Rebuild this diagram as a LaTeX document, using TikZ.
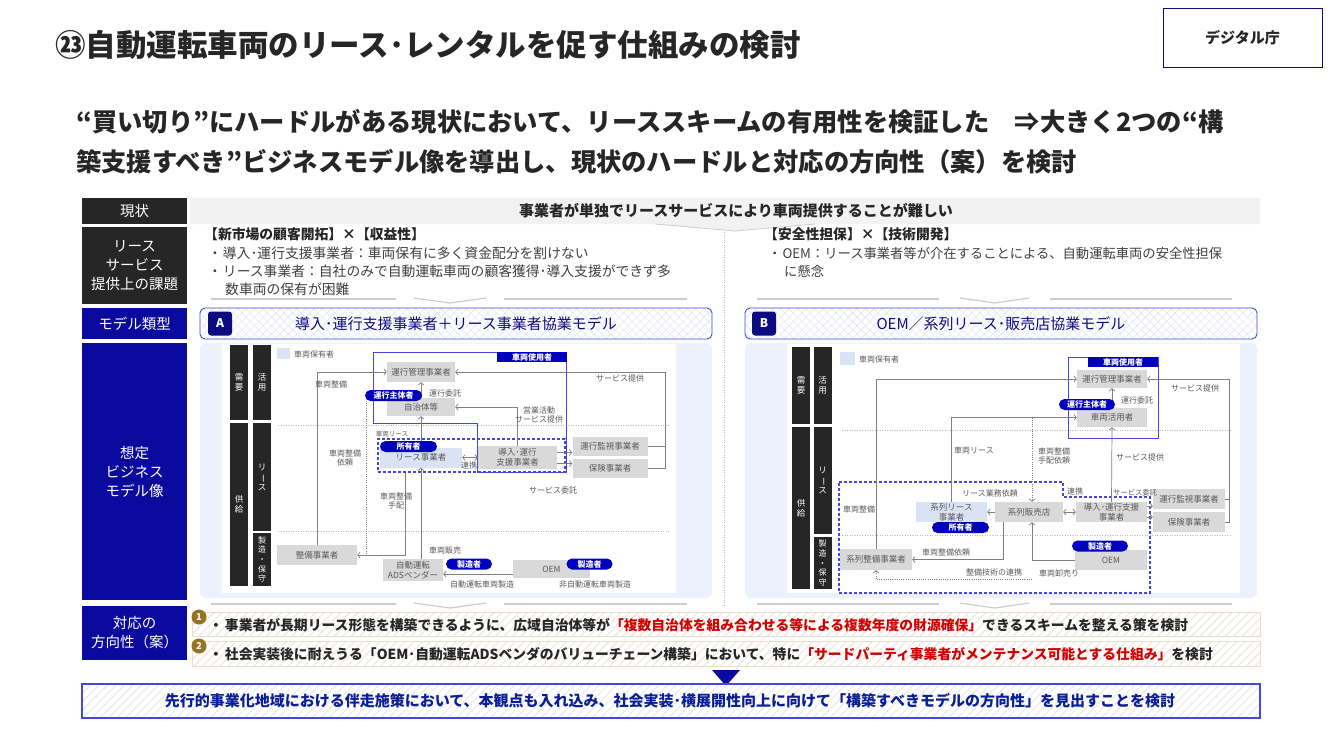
\documentclass[tikz,border=0pt]{standalone}
\usepackage{fontspec}
\setmainfont{Noto Sans CJK JP}
\usepackage{graphicx}
\usetikzlibrary{arrows.meta,patterns.meta}
\definecolor{darkbar}{RGB}{38,38,38}
\definecolor{navy}{RGB}{10,10,158}
\definecolor{navyd}{RGB}{12,12,130}
\definecolor{pillblue}{RGB}{0,0,190}
\definecolor{bline}{RGB}{70,70,225}
\definecolor{lblue}{RGB}{218,227,243}
\definecolor{panelbg}{RGB}{236,241,252}
\definecolor{gboxc}{RGB}{217,217,217}
\definecolor{gtext}{RGB}{89,89,89}
\definecolor{lgray}{RGB}{128,128,128}
\definecolor{redtxt}{RGB}{210,0,0}
\definecolor{gold}{RGB}{150,115,35}
\definecolor{beige}{RGB}{232,222,205}
\definecolor{hatchb}{RGB}{236,230,218}
\definecolor{txt}{RGB}{38,38,38}
\definecolor{txt2}{RGB}{64,64,64}
\definecolor{bluetxt}{RGB}{10,30,150}
\definecolor{xhatch}{RGB}{222,226,242}
\definecolor{sepg}{RGB}{205,205,205}
\definecolor{barbg}{RGB}{242,242,242}
\definecolor{bhatch}{RGB}{232,232,236}
\newcommand{\fsz}[2]{\fontsize{#1}{#2}\selectfont}
\tikzset{
  darklab/.style={fill=darkbar, text=white, font=\fsz{14.5}{19}, align=center, inner sep=0, minimum width=105},
  bluelab/.style={fill=navy, text=white, font=\fsz{14.5}{19}, align=center, inner sep=0, minimum width=105},
  gb/.style={fill=gboxc, text=gtext, font=\fsz{8.5}{10}, inner sep=0, align=center},
  lb/.style={gb, fill=lblue},
  pill/.style={fill=pillblue, text=white, rounded corners=5.5, font=\bfseries\fsz{8}{8}, inner sep=0, minimum height=11},
  tabbox/.style={fill=pillblue, text=white, font=\bfseries\fsz{8}{8}, inner sep=0, minimum height=10},
  vbar/.style={fill=darkbar, text=white, font=\fsz{8.5}{10}, align=center, inner sep=0, minimum width=18},
  sm/.style={text=gtext, font=\fsz{8}{9.5}, align=center, inner sep=0},
  ln/.style={draw=lgray, line width=0.7},
  arr/.style={ln, ->},
  darr/.style={ln, <->},
  dotl/.style={draw=lgray, line width=0.7, dash pattern=on 1pt off 1.2pt},
  guide/.style={draw=gray!55, line width=0.6, dash pattern=on 1pt off 1.5pt},
  sepl/.style={draw=sepg, line width=1.2},
  modelbox/.style={draw=bline, line width=0.9, rounded corners=5, inner sep=0,
     preaction={fill=white},
     preaction={pattern={Lines[angle=45,distance=6pt,line width=0.4pt]}, pattern color=xhatch},
     pattern={Lines[angle=-45,distance=6pt,line width=0.4pt]}, pattern color=xhatch},
  badge/.style={fill=navyd, text=white, rounded corners=3, minimum size=24, inner sep=0, font=\bfseries\fsz{12}{12}},
  rowbox/.style={draw=beige, line width=0.8, inner sep=0,
     preaction={fill=white},
     pattern={Lines[angle=45,distance=6pt,line width=0.9pt]}, pattern color=hatchb},
  numc/.style={circle, fill=gold, text=white, minimum size=15, inner sep=0, font=\bfseries\fsz{9.5}{9.5}},
  rowtxt/.style={anchor=west, text=txt, font=\bfseries\fsz{13.8}{14}, inner sep=0},
  ktxt/.style={anchor=west, text=txt2, font=\fsz{13.8}{14}, inner sep=0},
}
\begin{document}
\begin{tikzpicture}[x=1pt, y=-1pt, >={Straight Barb[length=2.5pt,width=6pt]}]
\useasboundingbox (0,0) rectangle (1334,750);
\fill[white] (0,0) rectangle (1334,750);

% ---------- header ----------
\node[anchor=west, inner sep=0, text=txt, font=\bfseries\fsz{30.5}{31}] (title) at (55,45) {㉓自動運転車両のリース･レンタルを促す仕組みの検討};
\node[draw=navyd, line width=0.9, minimum width=159, minimum height=59, inner sep=0, text=txt, font=\bfseries\fsz{15}{15}] (dcho) at (1242.5,37.5) {デジタル庁};
\node[anchor=west, inner sep=0, text=txt, font=\bfseries\fsz{25.3}{26}] (sub1) at (76,122) {“買い切り”にハードルがある現状において、リーススキームの有用性を検証した　⇒大きく2つの“構};
\node[anchor=west, inner sep=0, text=txt, font=\bfseries\fsz{25.3}{26}] (sub2) at (76,162) {築支援すべき”ビジネスモデル像を導出し、現状のハードルと対応の方向性（案）を検討};

% ---------- left labels ----------
\node[darklab, minimum height=26] (genjo) at (134.5,211) {現状};
\node[darklab, minimum height=77] (kadai) at (134.5,265.5) {リース\\サービス\\提供上の課題};
\node[bluelab, minimum height=31] (ruikei) at (134.5,323.5) {モデル類型};
\node[bluelab, minimum height=257] (sotei) at (134.5,471.5) {想定\\ビジネス\\モデル像};
\node[bluelab, minimum height=54] (taio) at (134.5,633) {対応の\\方向性（案）};

% ---------- current-state bar ----------
\fill[barbg] (190,198) -- (1260,198) -- (1260,224) -- (815,224) -- (735,231) -- (655,224) -- (190,224) -- cycle;
\draw[draw=sepg, line width=0.8] (655,224) -- (735,231) -- (815,224);
\node[inner sep=0, text=txt, font=\bfseries\fsz{15}{15}] (genjot) at (736,211) {事業者が単独でリースサービスにより車両提供することが難しい};
\draw[guide] (724,232) -- (724,606);

% ---------- challenges ----------
\node[anchor=west, inner sep=0, text=txt, font=\bfseries\fsz{13.8}{14}] (kA) at (204,234) {【新市場の顧客開拓】×【収益性】};
\node[ktxt] (kA1) at (208,253) {・\hspace{1pt}導入･運行支援事業者：車両保有に多く資金配分を割けない};
\node[ktxt] (kA2) at (208,271) {・\hspace{1pt}リース事業者：自社のみで自動運転車両の顧客獲得･導入支援ができず多};
\node[ktxt] (kA3) at (225,289) {数車両の保有が困難};
\node[anchor=west, inner sep=0, text=txt, font=\bfseries\fsz{13.8}{14}] (kB) at (764,234) {【安全性担保】×【技術開発】};
\node[ktxt, font=\fsz{13.3}{14}] (kB1) at (768,253) {・\hspace{1pt}OEM：リース事業者等が介在することによる、自動運転車両の安全性担保};
\node[ktxt, font=\fsz{13.3}{14}] (kB2) at (784,271) {に懸念};

% separators
\foreach \yy in {299,604}{
  \draw[sepl] (211,\yy) -- (396,\yy);
  \draw[sepl] (414,\yy-1) -- (450,\yy+4) -- (486,\yy-1);
  \draw[sepl] (504,\yy) -- (687,\yy);
  \draw[sepl] (757,\yy) -- (939,\yy);
  \draw[sepl] (960,\yy-1) -- (995,\yy+4) -- (1029,\yy-1);
  \draw[sepl] (1050,\yy) -- (1232,\yy);
}

% ---------- model type ----------
\node[modelbox, minimum width=512, minimum height=31] (mA) at (456,323.5) {};
\node[badge] (bA) at (220,323.5) {A};
\node[inner sep=0, text=navyd, font=\fsz{15}{15}] (mAt) at (456,323.5) {導入･運行支援事業者＋リース事業者協業モデル};
\node[modelbox, minimum width=512, minimum height=31] (mB) at (1001,323.5) {};
\node[badge] (bB) at (764,323.5) {B};
\node[inner sep=0, text=navyd, font=\fsz{15}{15}] (mBt) at (1001,323.5) {OEM／系列リース･販売店協業モデル};

% =============== PANEL A ===============
\fill[panelbg, rounded corners=6] (200,343) rectangle (712,598);
\fill[white] (222,344) rectangle (676,593);
\node[vbar, minimum height=75] (juyoA) at (239,382.5) {需\\要};
\node[vbar, minimum height=75] (katsuA) at (262,382.5) {活\\用};
\node[vbar, minimum height=163] (kyoA) at (239,504.5) {供\\給};
\node[vbar, minimum height=108] (riA) at (262,477) {リ\\\rotatebox[origin=c]{-90}{ー}\\ス};
\node[vbar, minimum height=53, font=\fsz{8}{9.6}] (seiA) at (262,559.5) {製\\造\\・\\保\\守};
\draw[guide] (278,425) -- (670,425);
\draw[guide] (278,531) -- (670,531);
\fill[lblue] (277,348) rectangle (290,359);
\node[sm, anchor=west] (legA) at (294,354) {車両保有者};

% user region
\draw[bline, line width=1] (373,352) -- (566,352) -- (566,472) -- (477,472) -- (477,423) -- (373,423) -- cycle;
\node[draw=bline, line width=1.2, dash pattern=on 3pt off 2pt, minimum width=187, minimum height=33, inner sep=0] (grpA) at (471.5,455.5) {};

% boxes
\node[gb, minimum width=68, minimum height=20] (kanriA) at (421,372) {運行管理事業者};
\node[gb, minimum width=68, minimum height=18] (jichiA) at (421,407) {自治体等};
\node[lb, minimum width=82, minimum height=20] (leaseA) at (421,457.5) {\raisebox{-2pt}{リース事業者}};
\node[gb, minimum width=79, minimum height=23] (donyuA) at (517.5,457.5) {導入･運行\\支援事業者};
\node[gb, minimum width=75, minimum height=19] (kanshiA) at (610,446.5) {運行監視事業者};
\node[gb, minimum width=75, minimum height=19] (hokenA) at (610,468.5) {保険事業者};
\node[gb, minimum width=80, minimum height=20] (seibiA) at (317,555) {整備事業者};
\node[gb, minimum width=60, minimum height=22] (adsA) at (413,570) {自動運転\\ADSベンダー};
\node[gb, minimum width=77, minimum height=18] (oemA) at (551.5,569) {OEM};

% connectors A
\coordinate (rA) at (665,372);
\coordinate (tA) at (405,0);
\coordinate (dA) at (366,0);
\coordinate (uA) at (366,401);
\draw[arr] (seibiA.north) |- (kanriA.west);
\draw[arr] (hokenA.east) -| (rA) -- (kanriA.east);
\draw[ln] (kanshiA.east) -- (kanshiA.east -| rA);
\draw[arr] (donyuA.north) |- (jichiA.east);
\draw[arr] (jichiA.north) -- (kanriA.south);
\draw[arr] (leaseA.north) -- (jichiA.south);
\draw[arr] (adsA.north -| leaseA.south) -- (leaseA.south);
\draw[darr] (leaseA.east) -- (donyuA.west);
\draw[arr] ([yshift=5]donyuA.east) -- ([yshift=5]donyuA.east -| kanshiA.west);
\draw[arr] ([yshift=-6]donyuA.east) -- ([yshift=-6]donyuA.east -| hokenA.west);
\draw[arr] (grpA.south -| tA) |- (seibiA.east);
\draw[dotl] (uA) -- (seibiA.east -| dA);
\draw[arr] ([yshift=-5]oemA.west) -- ([yshift=-5]oemA.west -| adsA.east);

% tab & pills A
\node[tabbox, minimum width=70] (tabA) at (532,357) {車両使用者};
\node[pill, minimum width=57] (unkoA) at (393.5,395.5) {運行主体者};
\node[pill, minimum width=57] (shoyuA) at (408.5,446.5) {所有者};
\node[pill, minimum width=46] (mfgA1) at (469,564) {製造者};
\node[pill, minimum width=46] (mfgA2) at (589.5,564) {製造者};

% labels A
\node[sm] (lA1) at (331,384) {車両整備};
\node[sm, anchor=west] (lA2) at (429,393) {運行委託};
\node[sm] (lA3) at (620,378) {サービス提供};
\node[sm] (lA4) at (539,415) {営業活動\\サービス提供};
\node[sm, font=\fsz{6.5}{7}] (lA5) at (392,434) {車両リース};
\node[sm] (lA6) at (345,458) {車両整備\\依頼};
\node[sm] (lA7) at (469,465) {連携};
\node[sm] (lA8) at (396,501) {車両整備\\手配};
\node[sm] (lA9) at (553,490) {サービス委託};
\node[sm] (lA10) at (445,550) {車両販売};
\node[sm] (lA11) at (482,584) {自動運転車両製造};
\node[sm] (lA12) at (595,584) {非自動運転車両製造};

% =============== PANEL B ===============
\fill[panelbg, rounded corners=6] (745,343) rectangle (1257,598);
\fill[white] (787,344) rectangle (1240,593);
\node[vbar, minimum height=77] (juyoB) at (801,385.5) {需\\要};
\node[vbar, minimum height=77] (katsuB) at (822.5,385.5) {活\\用};
\node[vbar, minimum height=162] (kyoB) at (801,508) {供\\給};
\node[vbar, minimum height=107] (riB) at (822.5,480.5) {リ\\\rotatebox[origin=c]{-90}{ー}\\ス};
\node[vbar, minimum height=52, font=\fsz{8}{9.6}] (seiB) at (822.5,563) {製\\造\\・\\保\\守};
\draw[guide] (842,430) -- (1232,430);
\draw[guide] (842,535) -- (1232,535);
\fill[lblue] (840,352) rectangle (855,365);
\node[sm, anchor=west] (legB) at (859,359) {車両保有者};

\node[draw=bline, line width=1, minimum width=90, minimum height=81, inner sep=0] (shiyoB) at (1113,397.5) {};
\draw[bline, line width=1.2, dash pattern=on 3pt off 2pt] (839,482) -- (1063,482) -- (1063,497) -- (1150,497) -- (1150,593) -- (839,593) -- cycle;

\node[gb, minimum width=70, minimum height=18] (kanriB) at (1112,379) {運行管理事業者};
\node[gb, minimum width=70, minimum height=19] (katsuyoB) at (1112,417.5) {車両活用者};
\node[gb, minimum width=71, minimum height=20] (donyuB) at (1111.5,512) {導入･運行支援\\事業者};
\node[gb, minimum width=72, minimum height=20] (kanshiB) at (1189,499) {運行監視事業者};
\node[gb, minimum width=72, minimum height=20] (hokenB) at (1189,522) {保険事業者};
\node[gb, minimum width=68, minimum height=20] (hanbaiB) at (1029,512) {系列販売店};
\node[lb, minimum width=71, minimum height=20] (leaseB) at (951.5,512) {系列リース\\事業者};
\node[gb, minimum width=72, minimum height=21] (seibiB) at (876,559.5) {系列整備事業者};
\node[gb, minimum width=72, minimum height=20] (oemB) at (1111,560) {\raisebox{-2pt}{OEM}};

% connectors B
\coordinate (rB) at (1229,379);
\coordinate (vB) at (1032,0);
\coordinate (hB) at (1003,0);
\coordinate (gB) at (1032,579);
\draw[arr] (seibiB.north) |- (kanriB.west);
\draw[arr] (leaseB.north) |- (katsuyoB.west);
\draw[arr] (katsuyoB.north) -- (kanriB.south);
\draw[arr] (donyuB.north) -- (katsuyoB.south);
\draw[arr] (hokenB.east) -| (rB) -- (kanriB.east);
\draw[ln] (kanshiB.east) -- (kanshiB.east -| rB);
\draw[arr] ([yshift=6]donyuB.east) -- ([yshift=6]donyuB.east -| kanshiB.west);
\draw[arr] ([yshift=-5]donyuB.east) -- ([yshift=-5]donyuB.east -| hokenB.west);
\draw[arr] (hanbaiB.west) -- (leaseB.east);
\draw[dotl, ->] (katsuyoB.west -| vB) -- (hanbaiB.north -| vB);
\draw[arr] (hanbaiB.south -| hB) |- (seibiB.east);
\draw[arr] (oemB.west) -| (hanbaiB.south -| vB);
\draw[dotl, ->] (gB) -| (seibiB.south);
\draw[darr] (hanbaiB.east) -- (donyuB.west);

% tab & pills B
\node[tabbox, minimum width=70] (tabB) at (1123,362) {車両使用者};
\node[pill, minimum width=56] (unkoB) at (1087,404.5) {運行主体者};
\node[pill, minimum width=57] (shoyuB) at (960.5,527.5) {所有者};
\node[pill, minimum width=56] (mfgB) at (1100,546) {製造者};

% labels B
\node[sm] (lB1) at (974,450) {車両リース};
\node[sm] (lB2) at (1054,456) {車両整備\\手配依頼};
\node[sm, anchor=west] (lB3) at (1121,400) {運行委託};
\node[sm] (lB4) at (1195,388) {サービス提供};
\node[sm, anchor=west] (lB5) at (1116,457) {サービス提供};
\node[sm] (lB6) at (990,493) {リース業務依頼};
\node[sm] (lB7) at (1075,491) {連携};
\node[sm, anchor=west, font=\fsz{7.3}{8}] (lB8) at (1113,493) {サービス委託};
\node[sm] (lB9) at (859,509) {車両整備};
\node[sm] (lB10) at (946,552) {車両整備依頼};
\node[sm] (lB11) at (994,572) {整備技術の連携};
\node[sm] (lB12) at (1059,573) {車両卸売り};

% =============== bottom ===============
\node[rowbox, minimum width=1068, minimum height=24] (r1) at (726,624) {};
\node[rowbox, minimum width=1068, minimum height=25] (r2) at (726,653.5) {};
\node[numc] (n1) at (199,617) {1};
\node[numc] (n2) at (199,646) {2};
\node[rowtxt] (t1) at (209,625) {・\hspace{2pt}事業者が長期リース形態を構築できるように、広域自治体等が\textcolor{redtxt}{「複数自治体を組み合わせる等による複数年度の財源確保」}できるスキームを整える策を検討};
\node[rowtxt] (t2) at (209,654) {・\hspace{2pt}社会実装後に耐えうる「OEM･自動運転ADSベンダのバリューチェーン構築」において、特に\textcolor{redtxt}{「サードパーティ事業者がメンテナンス可能とする仕組み」}を検討};
\fill[navy] (712,670) -- (740,670) -- (726,686) -- cycle;
\node[draw=bline, line width=1.2, minimum width=1178, minimum height=34, inner sep=0,
  preaction={fill=white}, pattern={Lines[angle=45,distance=6pt,line width=0.9pt]}, pattern color=bhatch] (bb) at (671,701) {};
\node[inner sep=0, text=bluetxt, font=\bfseries\fsz{15}{15}] (bbt) at (670,701) {先行的事業化地域における伴走施策において、本観点も入れ込み、社会実装･横展開性向上に向けて「構築すべきモデルの方向性」を見出すことを検討};
\end{tikzpicture}
\end{document}
